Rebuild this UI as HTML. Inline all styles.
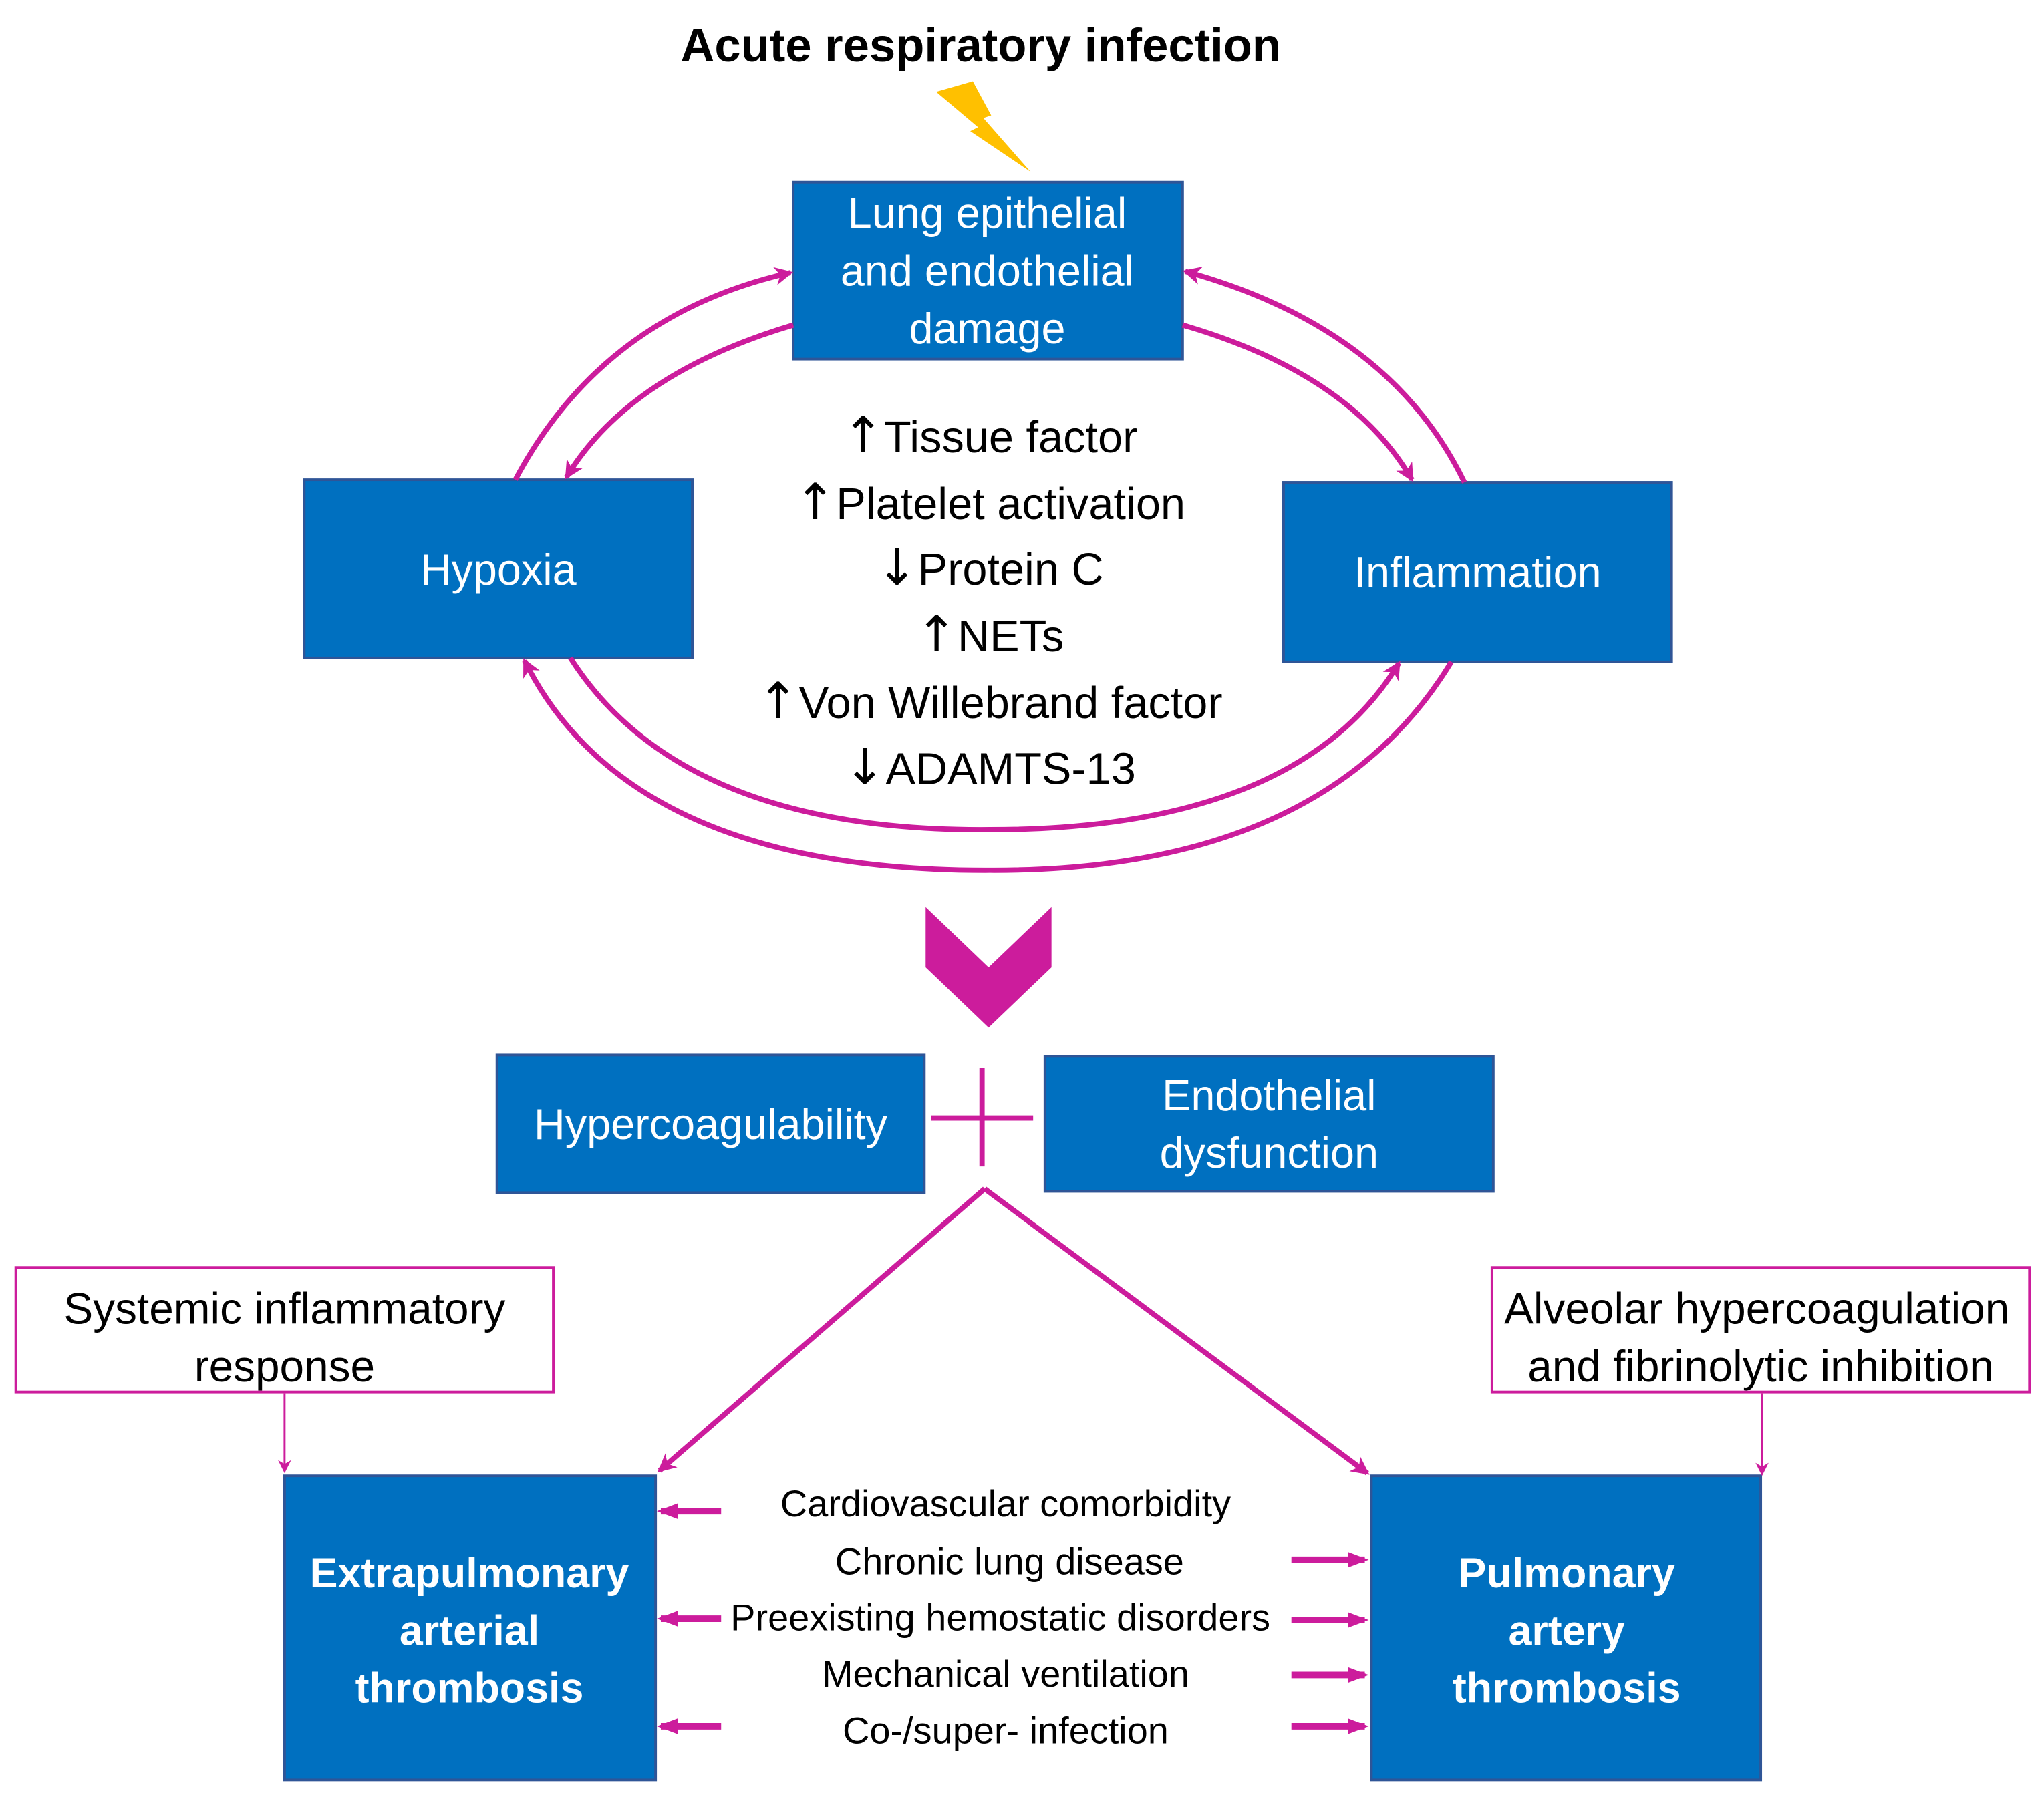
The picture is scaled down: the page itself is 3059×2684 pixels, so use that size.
<!DOCTYPE html>
<html><head><meta charset="utf-8"><style>
html,body{margin:0;padding:0;background:#fff;}
svg{display:block;}
text{font-family:"Liberation Sans","DejaVu Sans",sans-serif;}
.ar{font-family:"DejaVu Sans",sans-serif;font-size:38px;}
</style></head><body>
<svg width="3059" height="2684" viewBox="0 0 1559 1368" xmlns="http://www.w3.org/2000/svg">
<defs>
<marker id="ah" markerWidth="10" markerHeight="10" refX="8" refY="5" orient="auto" markerUnits="userSpaceOnUse">
<path d="M0,0 L10,5 L0,10 L3,5 Z" fill="#CC1C9C"/></marker>
<marker id="ah2" markerWidth="14" markerHeight="14" refX="12" refY="7" orient="auto" markerUnits="userSpaceOnUse">
<path d="M0,0 L14,7 L0,14 L4,7 Z" fill="#CC1C9C"/></marker>
<marker id="ah3" markerWidth="16" markerHeight="16" refX="13" refY="8" orient="auto" markerUnits="userSpaceOnUse">
<path d="M0,2 L16,8 L0,14 Z" fill="#CC1C9C"/></marker>
</defs>
<text x="748" y="47" font-size="36" font-weight="bold" text-anchor="middle" fill="#000">Acute respiratory infection</text>
<polygon points="714,70 742,62 756,88 750,90 786,131 740,100 746,97" fill="#FFC000"/>

<g fill="#0070C0" stroke="#2F5597" stroke-width="2">
<rect x="605" y="139" width="297" height="135"/>
<rect x="232" y="366" width="296" height="136"/>
<rect x="979" y="368" width="296" height="137"/>
<rect x="379" y="805" width="326" height="105"/>
<rect x="797" y="806" width="342" height="103"/>
<rect x="217" y="1126" width="283" height="232"/>
<rect x="1046" y="1126" width="297" height="232"/>
</g>
<g fill="#fff" font-size="33" text-anchor="middle">
<text x="753" y="174">Lung epithelial</text>
<text x="753" y="218">and endothelial</text>
<text x="753" y="262">damage</text>
<text x="380" y="446">Hypoxia</text>
<text x="1127" y="448">Inflammation</text>
<text x="542" y="869">Hypercoagulability</text>
<text x="968" y="847">Endothelial</text>
<text x="968" y="891">dysfunction</text>
</g>
<g fill="#fff" font-size="32" font-weight="bold" text-anchor="middle">
<text x="358" y="1211">Extrapulmonary</text>
<text x="358" y="1255">arterial</text>
<text x="358" y="1299">thrombosis</text>
<text x="1195" y="1211">Pulmonary</text>
<text x="1195" y="1255">artery</text>
<text x="1195" y="1299">thrombosis</text>
</g>

<g font-size="34" text-anchor="middle" fill="#000">
<text x="755" y="345"><tspan class="ar">↑</tspan>Tissue factor</text>
<text x="755" y="396"><tspan class="ar">↑</tspan>Platelet activation</text>
<text x="755" y="446"><tspan class="ar">↓</tspan>Protein C</text>
<text x="755" y="497"><tspan class="ar">↑</tspan>NETs</text>
<text x="755" y="548"><tspan class="ar">↑</tspan>Von Willebrand factor</text>
<text x="755" y="598"><tspan class="ar">↓</tspan>ADAMTS-13</text>
</g>

<g fill="none" stroke="#CC1C9C" stroke-width="4">
<path d="M393,366 Q460,240 603,208" marker-end="url(#ah2)"/>
<path d="M605,248 Q480,285 432,364" marker-end="url(#ah2)"/>
<path d="M1117,368 Q1060,250 904,207" marker-end="url(#ah2)"/>
<path d="M902,248 Q1030,285 1077,366" marker-end="url(#ah2)"/>
<path d="M435,502 Q520,635 755,633 Q990,633 1067,506" marker-end="url(#ah2)"/>
<path d="M1107,505 Q1010,665 755,664 Q480,665 400,504" marker-end="url(#ah2)"/>
<line x1="749" y1="815" x2="749" y2="890"/>
<line x1="710" y1="853" x2="788" y2="853"/>
<path d="M751,907 L503,1122" marker-end="url(#ah2)"/>
<path d="M751,907 L1043,1124" marker-end="url(#ah2)"/>
</g>
<polygon points="706,692 754,738 802,692 802,738 754,784 706,738" fill="#CC1C9C"/>

<g fill="#fff" stroke="#CC1C9C" stroke-width="2">
<rect x="12" y="967" width="410" height="95"/>
<rect x="1138" y="967" width="410" height="95"/>
</g>
<g font-size="33.5" text-anchor="middle" fill="#000">
<text x="217" y="1010">Systemic inflammatory</text>
<text x="217" y="1054">response</text>
<text x="1340" y="1010">Alveolar hypercoagulation</text>
<text x="1343" y="1054">and fibrinolytic inhibition</text>
</g>
<g fill="none" stroke="#CC1C9C" stroke-width="1.5">
<path d="M217,1063 L217,1122" marker-end="url(#ah)"/>
<path d="M1344,1063 L1344,1124" marker-end="url(#ah)"/>
</g>

<g font-size="28.5" text-anchor="middle" fill="#000">
<text x="767" y="1157">Cardiovascular comorbidity</text>
<text x="770" y="1201">Chronic lung disease</text>
<text x="763" y="1244">Preexisting hemostatic disorders</text>
<text x="767" y="1287">Mechanical ventilation</text>
<text x="767" y="1330">Co-/super- infection</text>
</g>
<g fill="none" stroke="#CC1C9C" stroke-width="5">
<path d="M550,1153 L504,1153" marker-end="url(#ah3)"/>
<path d="M550,1235 L504,1235" marker-end="url(#ah3)"/>
<path d="M550,1317 L504,1317" marker-end="url(#ah3)"/>
<path d="M985,1190 L1041,1190" marker-end="url(#ah3)"/>
<path d="M985,1236 L1041,1236" marker-end="url(#ah3)"/>
<path d="M985,1278 L1041,1278" marker-end="url(#ah3)"/>
<path d="M985,1317 L1041,1317" marker-end="url(#ah3)"/>
</g>
</svg>
</body></html>
